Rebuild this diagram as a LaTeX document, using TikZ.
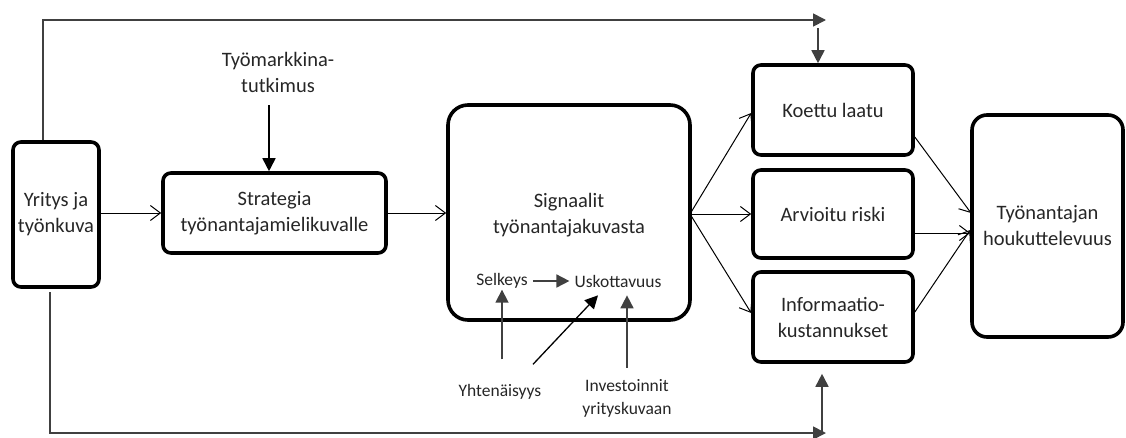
\documentclass[tikz,border=0pt]{standalone}
\usepackage{fontspec}
\setmainfont{Carlito}
\usetikzlibrary{arrows.meta,calc}
\tikzset{
  box/.style={draw=black, line width=3.6pt, rounded corners=8pt, inner sep=0pt, align=center},
  txt/.style={font=\fontsize{20.5}{26}\selectfont, text=black!85, align=center, inner sep=1pt},
  small/.style={font=\fontsize{17.5}{23}\selectfont, text=black!85, align=center, inner sep=1pt},
  flow/.style={line width=1pt, -{Straight Barb[length=10pt,width=15pt,line width=1pt]}},
  feed/.style={line width=1.7pt, draw=black!75},
  tri/.style={-{Triangle[length=13pt,width=13pt]}},
  thin/.style={line width=1.7pt, draw=black!75, -{Triangle[length=13pt,width=13pt]}}
}
\begin{document}
\begin{tikzpicture}[x=1pt,y=-1pt]
\useasboundingbox (0,0) rectangle (1126,437);
% boxes
\node[box, minimum width=86pt, minimum height=145pt, txt] (Y) at (56,214.5) {Yritys ja\\työnkuva};
\node[box, minimum width=223pt, minimum height=80pt, txt] (S) at (274.5,213) {Strategia\\työnantajamielikuvalle};
\node[box, rounded corners=20pt, minimum width=242pt, minimum height=215pt] (G) at (569,212.5) {};
\node[txt] (Gt) at (569,215.5) {Signaalit\\työnantajakuvasta};
\node[box, minimum width=160pt, minimum height=90pt, txt] (K) at (833,110) {Koettu laatu};
\node[box, minimum width=160pt, minimum height=88pt, txt] (A) at (833,214) {Arvioitu riski};
\node[box, minimum width=160pt, minimum height=90pt, txt] (I) at (833,317) {Informaatio-\\kustannukset};
\node[box, rounded corners=15pt, minimum width=151pt, minimum height=222pt, txt] (T) at (1047.5,226) {Työnantajan\\houkuttelevuus};
% labels
\node[txt] (M) at (278,72) {Työmarkkina-\\tutkimus};
\node[small] (Sel) at (502,281) {Selkeys};
\node[small] (Usk) at (618,281) {Uskottavuus};
\node[small] (Yh) at (500,392) {Yhtenäisyys};
\node[small] (Inv) at (627,398) {Investoinnit\\yrityskuvaan};
% main flow
\draw[flow] (Y.east |- 0,213) -- (S.west |- 0,213);
\draw[flow] (S.east |- 0,213) -- (G.west |- 0,213);
\coordinate (go) at (690,214);
\draw[flow] (go) -- (K.west |- 0,113);
\draw[flow] (go) -- (A.west |- 0,214);
\draw[flow] (go) -- (I.west |- 0,313);
\coordinate (tin) at (971,213);
\draw[flow] (K.east |- 0,137) -- (tin);
\draw[flow] (A.east |- 0,233) -- (T.west |- 0,233);
\draw[flow] (I.east |- 0,312) -- (T.west |- 0,230);
% Tyomarkkina
\draw[line width=1.7pt, tri] (M.south -| 269,0) ++(0,12) -- (S.north -| 269,0);
% top feedback
\coordinate (tx) at (43,20);
\coordinate (te) at (826,20);
\draw[feed, tri] (Y.north -| tx) -- (tx) -- (te);
\coordinate (td) at (818,28);
\draw[thin] (td) -- (K.north -| td);
% bottom feedback
\coordinate (bs) at (50,292);
\coordinate (bx) at (50,433);
\coordinate (be) at (826,433);
\draw[feed, tri] (bs) -- (bx) -- (be);
\coordinate (bu) at (822,433);
\draw[thin] (bu) -- ([yshift=-10pt]I.south -| bu);
% inner signals
\draw[thin, shorten <=4pt, shorten >=4pt] (Sel.east) -- (Usk.west);
\draw[thin] ($(Yh.north)+(2,-24)$) -- (Sel.south);
\draw[line width=1.3pt, tri] ($(Yh.north)+(33,-19)$) -- ($(Usk.south)+(-20,7)$);
\draw[thin, shorten >=7pt, shorten <=10pt] (Inv.north) -- (Usk.south -| Inv.north);
\end{tikzpicture}
\end{document}
